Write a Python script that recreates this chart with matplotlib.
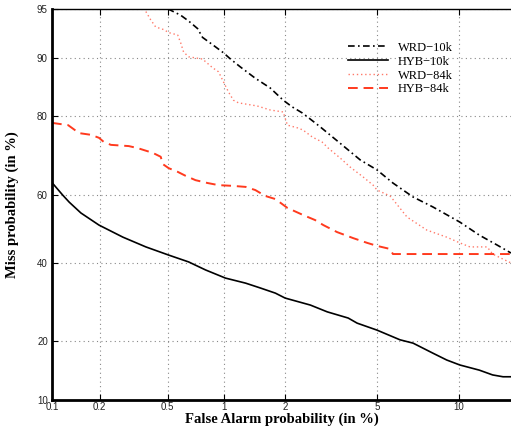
import numpy as np
import matplotlib
matplotlib.use("Agg")
import matplotlib.pyplot as plt
from statistics import NormalDist

# DET curves, values in percent
hyb10_fa = [0.1, 0.101, 0.117, 0.129, 0.153, 0.198, 0.276, 0.376, 0.506, 0.652, 0.803, 1.02, 1.29,
            1.52, 1.80, 2.0, 2.61, 3.1, 3.81, 4.15, 5.0, 6.14, 6.88, 8.12, 9.09, 10.08, 11.7, 12.9,
            13.9, 14.7]
hyb10_miss = [63.3, 63.3, 60.0, 57.9, 54.7, 51.1, 47.5, 44.6, 42.2, 40.2, 37.9, 35.6, 34.2,
              32.9, 31.5, 30.2, 28.4, 26.7, 25.2, 24.0, 22.4, 20.3, 19.6, 17.6, 16.3, 15.4, 14.5, 13.7,
              13.4, 13.4]

hyb84_fa = [0.1, 0.127, 0.149, 0.177, 0.198, 0.212, 0.234, 0.299, 0.337, 0.412, 0.457, 0.469, 0.506,
            0.568, 0.628, 0.71, 0.823, 0.939, 1.107, 1.29, 1.44, 1.61, 1.8, 2.05, 2.42, 2.74, 2.98,
            3.42, 4.0, 4.56, 5.0, 5.62, 5.77, 14.7]
hyb84_miss = [78.6, 78.1, 76.3, 75.9, 75.2, 74.2, 73.5, 73.2, 72.7, 71.5, 70.5, 68.6, 67.5,
              66.5, 65.4, 64.2, 63.4, 62.8, 62.6, 62.3, 61.4, 59.7, 58.8, 56.2, 54.1, 52.6, 51.1,
              49.0, 47.2, 45.8, 44.9, 44.0, 42.5, 42.5]

wrd10_fa = [0.5, 0.52, 0.59, 0.652, 0.728, 0.774, 0.885, 0.997, 1.082, 1.215, 1.44, 1.70, 1.96,
            2.16, 2.40, 2.53, 2.89, 3.52, 4.27, 5.0, 5.77, 6.88, 8.12, 10.08, 11.7, 13.3, 14.7]
wrd10_miss = [95.0, 94.9, 94.5, 94.0, 93.3, 92.4, 91.5, 90.6, 89.8, 88.7, 87.0, 85.4, 83.2,
              81.9, 80.7, 79.9, 77.7, 73.9, 69.7, 67.0, 63.4, 59.4, 56.5, 52.0, 48.1, 45.2, 42.8]

wrd84_fa = [0.376, 0.401, 0.428, 0.475, 0.506, 0.568, 0.59, 0.612, 0.652, 0.774, 0.874, 0.939, 0.997,
            1.057, 1.12, 1.188, 1.47, 1.70, 1.96, 2.05, 2.28, 2.42, 2.66, 2.94, 3.13, 3.52, 3.88,
            4.39, 4.82, 5.0, 5.62, 5.8, 6.53, 7.73, 9.09, 10.08, 10.9, 12.4, 12.9, 14.7]
wrd84_miss = [94.8, 94.1, 93.45, 93.2, 92.9, 92.65, 91.8, 90.7, 90.1, 89.8, 88.6, 88.0, 86.4,
              84.7, 83.2, 82.7, 82.1, 81.3, 80.9, 78.1, 77.5, 77.0, 75.4, 74.2, 72.7, 70.2, 67.8,
              65.1, 62.8, 61.4, 59.7, 58.5, 53.5, 49.6, 47.5, 45.8, 44.6, 44.6, 42.5, 39.9]

x_ticks = [0.1, 0.2, 0.5, 1, 2, 5, 10]
x_labels = ["0.1", "0.2", "0.5", "1", "2", "5", "10"]
y_ticks = [10, 20, 40, 60, 80, 90, 95]
y_labels = ["10", "20", "40", "60", "80", "90", "95"]

nd = NormalDist()
_ppf = np.vectorize(nd.inv_cdf, otypes=[float])
_cdf = np.vectorize(nd.cdf, otypes=[float])


def probit(p):
    p = np.clip(np.asarray(p, dtype=float) / 100.0, 1e-9, 1 - 1e-9)
    return _ppf(p)


def inv_probit(z):
    return _cdf(np.asarray(z, dtype=float)) * 100.0


fig = plt.figure(figsize=(5.11, 4.26), dpi=100)
ax = fig.add_axes([52 / 511, 1 - 400 / 426, 1 - 52 / 511, (400 - 9) / 426])
ax.set_xscale("function", functions=(probit, inv_probit))
ax.set_yscale("function", functions=(probit, inv_probit))

ax.plot(wrd10_fa, wrd10_miss, color="black", lw=1.2, dashes=[4, 2, 1, 2], label="WRD\u221210k")
ax.plot(hyb10_fa, hyb10_miss, color="black", lw=1.2, label="HYB\u221210k")
ax.plot(wrd84_fa, wrd84_miss, color="#ff7a6a", lw=1.0, ls=(0, (1, 2)), label="WRD\u221284k")
ax.plot(hyb84_fa, hyb84_miss, color="#ff3a1e", lw=1.4, dashes=[5, 3], label="HYB\u221284k")

ax.set_xlim(0.1, 14.7)
ax.set_ylim(10, 95)
ax.set_xticks(x_ticks)
ax.set_xticklabels(x_labels)
ax.set_yticks(y_ticks)
ax.set_yticklabels(y_labels)
ax.minorticks_off()
ax.tick_params(direction="in", length=4, width=0.8, labelsize=7, top=True, pad=3)
ax.tick_params(axis="x", pad=1.5)
for lab in ax.get_xticklabels() + ax.get_yticklabels():
    lab.set_family("Liberation Sans")
    lab.set_color("#222222")

ax.grid(True, color="#888888", ls=(0, (1, 3)), lw=0.8)
ax.spines["left"].set_linewidth(2)
ax.spines["bottom"].set_linewidth(2)
ax.spines["top"].set_linewidth(1)
ax.spines["right"].set_visible(False)

ax.set_xlabel("False Alarm probability (in %)", family="Liberation Serif",
              fontweight="bold", fontsize=10.5)
ax.xaxis.set_label_coords(0.5, -0.0575)
ax.xaxis.label.set_verticalalignment("baseline")
ax.set_ylabel("Miss probability (in %)", family="Liberation Serif",
              fontweight="bold", fontsize=10.5)
ax.yaxis.set_label_coords(-0.072, 0.5)

leg = ax.legend(loc="upper left", bbox_to_anchor=(0.62, 0.945), frameon=False,
                prop={"family": "Liberation Serif", "size": 9},
                handlelength=3.2, handletextpad=0.8, labelspacing=0.15)

fig.savefig("out.png", dpi=100)
